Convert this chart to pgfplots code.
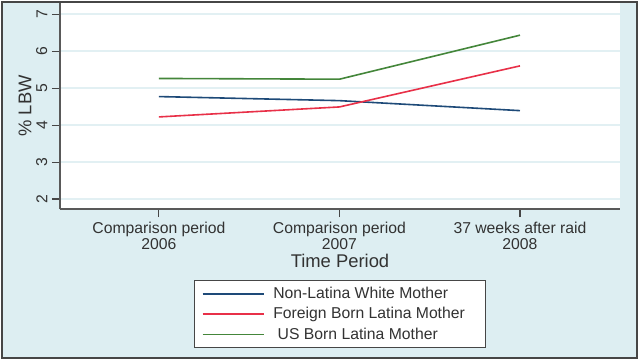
\documentclass[border=0pt]{standalone}
\usepackage{pgfplots}
\pgfplotsset{compat=1.18}
\usepackage{fontspec}
\setmainfont{Liberation Sans}
\definecolor{bgblue}{RGB}{221,238,242}
\definecolor{gridc}{RGB}{226,240,243}
\definecolor{sblue}{RGB}{30,74,120}
\definecolor{sred}{RGB}{232,48,72}
\definecolor{sgreen}{RGB}{68,134,58}
\definecolor{txt}{RGB}{50,50,50}
\definecolor{framec}{RGB}{70,70,70}
\begin{document}
\begin{tikzpicture}
\fill[white] (0,0) rectangle (480pt,271.5pt);
\fill[bgblue] (1.5pt,3pt) rectangle (478pt,270pt);
\begin{axis}[
 at={(45pt,114.75pt)}, anchor=south west,
 scale only axis, width=420pt, height=154.5pt,
 xmin=-0.548, xmax=2.554, ymin=1.73, ymax=7.3,
 axis x line*=bottom, axis y line*=left,
 axis line style={-, draw=framec!90, line width=1pt},
 axis background/.style={fill=white},
 xtick={0,1,2},
 xticklabels={{Comparison period\\2006},{Comparison period\\2007},{37 weeks after raid\\2008}},
 xticklabel style={align=center, font=\fontsize{11.8}{12}\selectfont, text=txt},
 ytick={2,...,7},
 yticklabel style={rotate=90, anchor=south, font=\fontsize{11.8}{12}\selectfont, text=txt},
 tick align=outside, major tick length=6pt,
 tick style={draw=framec, line width=0.8pt},
 ymajorgrids, grid style={gridc, line width=1pt},
 /pgf/number format/assume math mode=true,
 every axis x label/.style={at={(axis description cs:0.5,-0.2524)}, anchor=center},
 every axis y label/.style={at={(axis description cs:-0.0625,0.5)}, anchor=center, rotate=90},
 label style={font=\fontsize{13.8}{14}\selectfont, text=txt},
 xlabel={Time Period}, ylabel={\% LBW},
 legend style={at={(axis description cs:0.5,-0.3447)}, anchor=north, draw=framec, line width=0.8pt, fill=white,
   inner xsep=5.25pt, inner ysep=4.9pt, row sep=5.25pt, column sep=6.75pt,
   font=\fontsize{11.8}{12}\selectfont, text=txt, nodes={inner sep=0pt}},
 legend cell align=left,
 legend image code/.code={\draw[#1, line width=1.3pt] (0pt,0pt) -- (45.75pt,0pt);},
]
\addplot[sblue, line width=1.2pt] coordinates {(0,4.77) (1,4.66) (2,4.39)};
\addlegendentry{\makebox[153.75pt][l]{\strut Non-Latina White Mother}}
\addplot[sred, line width=1.2pt] coordinates {(0,4.22) (1,4.49) (2,5.60)};
\addlegendentry{\makebox[153.75pt][l]{\strut Foreign Born Latina Mother}}
\addplot[sgreen, line width=1.2pt] coordinates {(0,5.26) (1,5.24) (2,6.43)};
\addlegendentry{\makebox[153.75pt][l]{\strut\ US Born Latina Mother}}
\end{axis}
\draw[framec, line width=1.5pt] (1.5pt,3pt) rectangle (477.75pt,270pt);
\pgfresetboundingbox
\path (0,0) rectangle (480pt,271.5pt);
\end{tikzpicture}
\end{document}
